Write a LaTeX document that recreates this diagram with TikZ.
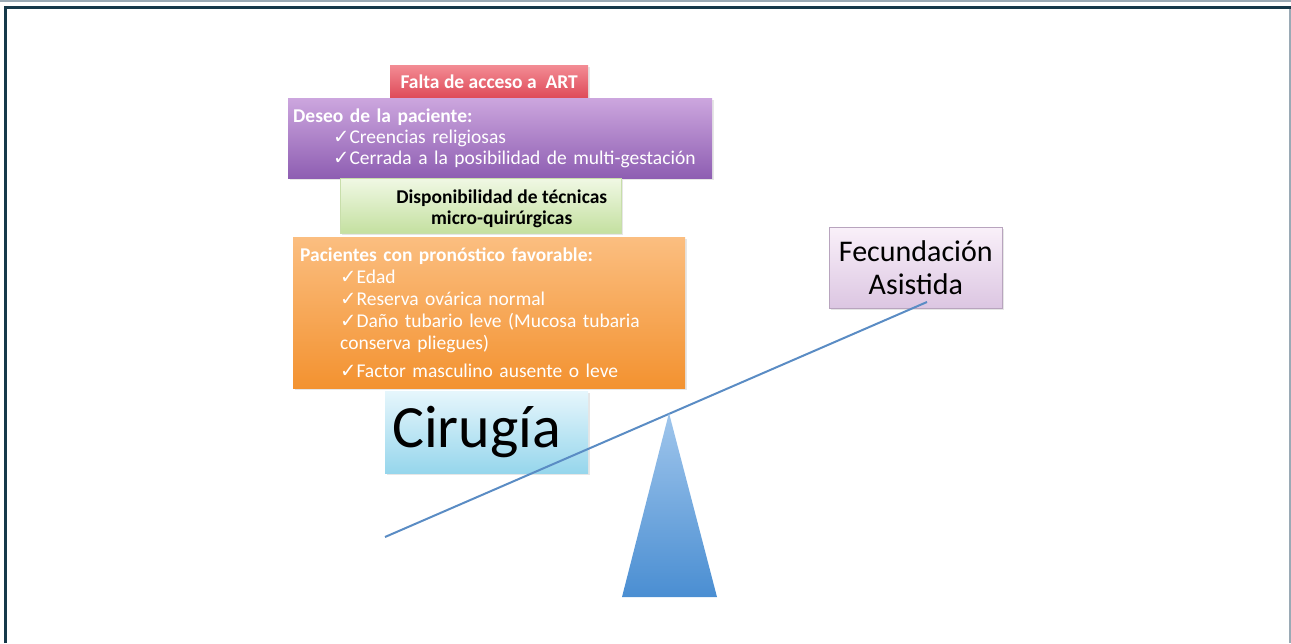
\documentclass[tikz,border=0pt]{standalone}
\usepackage{fontspec}
\setmainfont{Carlito}
\newfontfamily\symfont{DejaVu Sans}
\usetikzlibrary{shadows}
\newcommand{\chk}{{\symfont\char"2713}}
\newcommand{\sang}{\hspace*{40pt}}

\begin{document}
\begin{tikzpicture}[x=1pt,y=-1pt,
    caja/.style={rectangle, inner sep=0pt, anchor=north west,
      drop shadow={opacity=0.2, shadow xshift=1.5pt, shadow yshift=-1.5pt}},
    chico/.style={font=\fontsize{19.5}{21}\selectfont},
    negrita/.style={font=\fontsize{19.5}{21}\selectfont\bfseries}]

    \useasboundingbox (0,0) rectangle (1291,643);

    % marco
    \draw[color={rgb,255:red,154;green,170;blue,181}, line width=2pt] (0,1) -- (1291,1);
    \draw[color={rgb,255:red,154;green,170;blue,181}, line width=1.5pt] (1290,8) -- (1290,643);
    \draw[color={rgb,255:red,22;green,57;blue,74}, line width=3pt] (5,643) -- (5,7.5) -- (1291,7.5);

    \node[caja, negrita, top color={rgb,255:red,243;green,140;blue,148}, bottom color={rgb,255:red,222;green,74;blue,88},
      minimum width=198pt, minimum height=33pt, text=white] (art) at (390,65) {Falta de acceso a\ \ ART};

    \node[caja, chico, top color={rgb,255:red,204;green,166;blue,222}, bottom color={rgb,255:red,142;green,94;blue,178},
      minimum width=424pt, minimum height=80pt, inner xsep=5pt, text width=414pt, align=left, text=white] (deseo) at (288,98)
      {\textbf{Deseo de la paciente:}\\ \sang\chk Creencias religiosas\\ \sang\chk Cerrada a la posibilidad de multi-gestación};

    \node[caja, top color={rgb,255:red,240;green,248;blue,228}, bottom color={rgb,255:red,196;green,224;blue,160},
      draw={rgb,255:red,200;green,222;blue,170}, line width=0.5pt,
      minimum width=281pt, minimum height=55pt] (tecnicas) at (340,178) {};
    \node[negrita, align=center, inner sep=0pt] (tecnicas-txt) at ([xshift=21pt, yshift=-3.5pt]tecnicas.center)
      {Disponibilidad de técnicas\\ micro-quirúrgicas};

    \node[caja, top color={rgb,255:red,251;green,190;blue,128}, bottom color={rgb,255:red,243;green,146;blue,48},
      minimum width=392pt, minimum height=151pt, inner xsep=7pt, text width=378pt, align=left, text=white,
      font=\fontsize{19.5}{22}\selectfont] (pronostico) at (293,237)
      {\textbf{Pacientes con pronóstico favorable:}\\ \sang\chk Edad\\ \sang\chk Reserva ovárica normal\\
       \sang\chk Daño tubario leve (Mucosa tubaria\\ \sang conserva pliegues)\\[6pt] \sang\chk Factor masculino ausente o leve};

    \node[caja, top color={rgb,255:red,230;green,246;blue,252}, bottom color={rgb,255:red,150;green,214;blue,236},
      minimum width=203pt, minimum height=82pt, font=\fontsize{60}{62}\selectfont] (cirugia) at (385,391)
      {Cirugía\hspace*{20pt}};

    \node[caja, top color={rgb,255:red,249;green,240;blue,249}, bottom color={rgb,255:red,220;green,198;blue,226},
      draw={rgb,255:red,184;green,164;blue,190}, line width=0.6pt,
      minimum width=173pt, minimum height=81pt, align=center, font=\fontsize{30}{33}\selectfont] (fecundacion) at (829,227)
      {Fecundación\\ Asistida};

    % balanza
    \coordinate (izq) at (385,537);
    \coordinate (der) at (927,302);
    \draw[color={rgb,255:red,90;green,140;blue,196}, line width=2pt] (izq) -- (der);

    \shade[top color={rgb,255:red,160;green,198;blue,236}, bottom color={rgb,255:red,74;green,142;blue,210}]
      (669,413) -- (717,597) -- (622,597) -- cycle;

\end{tikzpicture}
\end{document}
